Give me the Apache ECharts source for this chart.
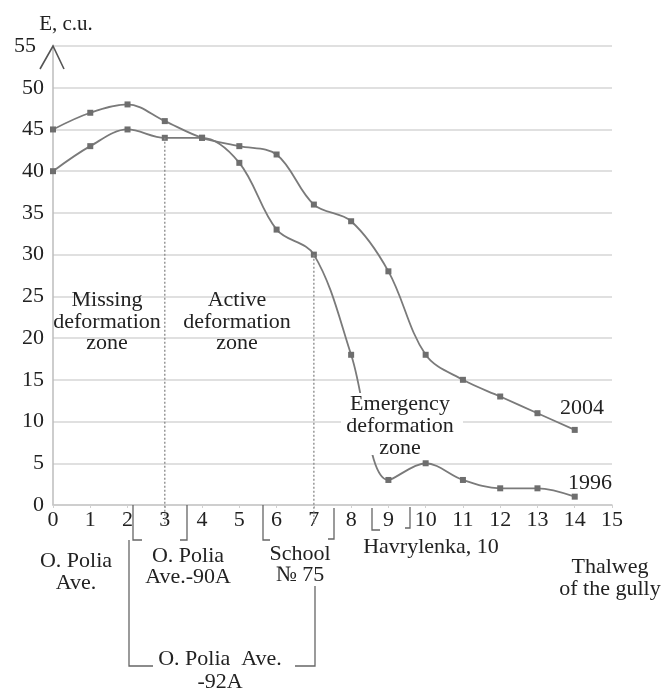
<!DOCTYPE html>
<html>
<head>
<meta charset="utf-8">
<script src="https://cdn.jsdelivr.net/npm/echarts@6/dist/echarts.min.js"></script>
<style>
html,body{margin:0;padding:0;background:#fff;}
#main{width:666px;height:693px;}
</style>
</head>
<body>
<div id="main"></div>
<script>
// ---- data ----
const xPoints = [0,1,2,3,4,5,6,7,8,9,10,11,12,13,14];
const e2004 = [45,47,48,46,44,43,42,36,34,28,18,15,13,11,9];
const e1996 = [40,43,45,44,44,41,33,30,18,3,5,3,2,2,1];
const xTickLabels = ['0','1','2','3','4','5','6','7','8','9','10','11','12','13','14','15'];
const yTickLabels = ['0','5','10','15','20','25','30','35','40','45','50','55'];
const seriesNames = ['2004','1996'];

const FONT = '"Liberation Serif", "DejaVu Serif", serif';
const chart = echarts.init(document.getElementById('main'));
const lineColor = '#7a7a7a';

chart.setOption({
  animation:false,
  backgroundColor:'#fff',
  grid:{left:53,right:54,top:46,bottom:188},
  xAxis:{
    type:'value',min:0,max:15,interval:1,
    axisLine:{show:true,lineStyle:{color:'#c8c8c8',width:1.5}},
    axisTick:{show:true,length:3,lineStyle:{color:'#d0d0d0'}},
    splitLine:{show:false},
    axisLabel:{fontFamily:FONT,fontSize:22,color:'#222',margin:4,
      formatter:(v)=>xTickLabels[Math.round(v)]}
  },
  yAxis:{
    type:'value',min:0,max:55,interval:5,
    axisLine:{show:true,lineStyle:{color:'#bdbdbd',width:1.5}},
    axisTick:{show:false},
    splitLine:{show:true,lineStyle:{color:'#d6d6d6',width:1.5}},
    axisLabel:{fontFamily:FONT,fontSize:22,color:'#222',margin:9,
      formatter:(v)=>{const t=yTickLabels[Math.round(v/5)];return v>=55?'{s|'+t+'}':t;},
      rich:{s:{fontFamily:FONT,fontSize:22,color:'#222',padding:[0,8,0,0]}}}
  },
  series:[
    {name:seriesNames[0],type:'line',smooth:0.35,
      data:xPoints.map((x,i)=>[x,e2004[i]]),
      symbol:'rect',symbolSize:6,
      lineStyle:{color:lineColor,width:1.8},
      itemStyle:{color:'#6e6e6e'},z:3},
    {name:seriesNames[1],type:'line',smooth:0.35,
      data:xPoints.map((x,i)=>[x,e1996[i]]),
      symbol:'rect',symbolSize:6,
      lineStyle:{color:lineColor,width:1.8},
      itemStyle:{color:'#6e6e6e'},z:3}
  ]
});

const P = (x,y)=>chart.convertToPixel({gridIndex:0},[x,y]);
const g = [];
function txt(text,x,y,size,lh){
  g.push({type:'text',z:120,style:{text:text,x:x,y:y,font:size+'px '+FONT,fill:'#222',
    textAlign:'center',textVerticalAlign:'middle',lineHeight:lh||22}});
}
function poly(pts,opts){
  g.push({type:'polyline',z:110,shape:{points:pts},
    style:Object.assign({stroke:'#666',lineWidth:1.3,fill:null},opts||{})});
}
// y-axis chevron arrow
const apex = P(0,55);
poly([[apex[0]-13,apex[1]+23],[apex[0],apex[1]],[apex[0]+11,apex[1]+23]],{stroke:'#555',lineWidth:1.6});
txt('E, c.u.',66,24,21);

// dotted drop lines
const d3 = P(3,e1996[3]), d7 = P(7,e1996[7]);
poly([d3,[d3[0],524]],{stroke:'#888',lineDash:[2,2],lineWidth:1.3});
poly([d7,[d7[0],524]],{stroke:'#888',lineDash:[2,2],lineWidth:1.3});

// brackets under axis
const ax = P(0,0)[1];
poly([[133,ax],[133,540],[142,540]]);
poly([[187,ax],[187,540],[180,540]]);
poly([[263,ax],[263,540],[270,540]]);
poly([[334,ax+3],[334,539],[328,539]]);
poly([[372,ax+3],[372,530],[380,530]]);
poly([[410,ax+2],[410,528],[405,528]]);
// long bracket
poly([[129,540],[129,666],[153,666]]);
poly([[315,586],[315,666],[295,666]]);

// zone texts
txt('Missing\ndeformation\nzone',107,322,22,21.5);
txt('Active\ndeformation\nzone',237,322,22,21.5);
g.push({type:'rect',z:115,shape:{x:341,y:393,width:122,height:62},style:{fill:'#fff'}});
txt('Emergency\ndeformation\nzone',400,426,22,22);

txt('2004',582,408,22);
txt('1996',590,483,22);

// location labels
txt('O. Polia\nAve.',76,572,22);
txt('O. Polia\nAve.-90A',188,567,22,21);
txt('School\n№ 75',300,565,22,21);
txt('Havrylenka, 10',431,547,22);
txt('Thalweg\nof the gully',610,578,22);
txt('O. Polia  Ave.\n-92A',220,671,22,23);

chart.setOption({graphic:{elements:g}});
</script>
</body>
</html>
